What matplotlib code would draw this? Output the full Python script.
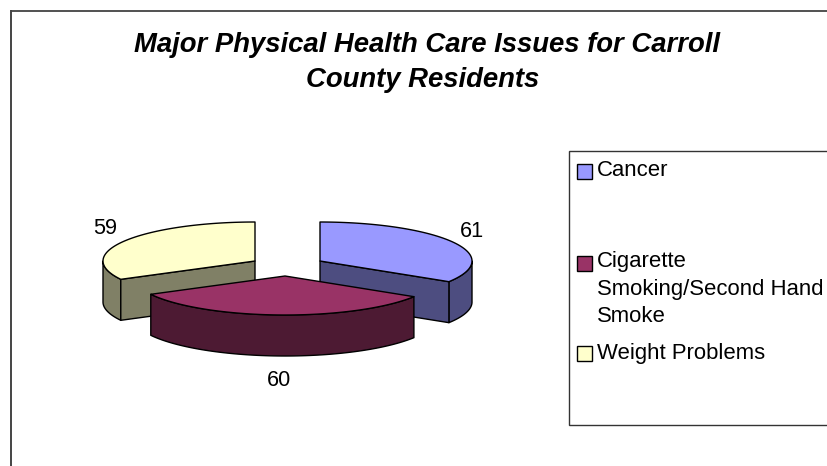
import numpy as np
import matplotlib
matplotlib.use("Agg")
import matplotlib.pyplot as plt
from matplotlib.patches import Polygon, Rectangle

categories = ["Cancer", "Cigarette\nSmoking/Second Hand\nSmoke", "Weight Problems"]
values = [61, 60, 59]
title_lines = ["Major Physical Health Care Issues for Carroll", "County Residents"]

top_colors = ["#9999FF", "#993366", "#FFFFCC"]
side_colors = ["#4D4D80", "#4D1A33", "#808066"]

# layout (pixels)
apexes = [(320, 261), (285, 276), (255, 261)]
RX, RY, DEPTH = 152, 39, 41
label_pos = [(472, 231.5), (279, 380), (105, 229)]
swatch_y = [164, 256, 346]
legend_text_y = [176.5, 267.5, 358.5]
LINE_PITCH = 27.5

plt.rcParams["font.family"] = ["Liberation Sans", "DejaVu Sans"]
fig = plt.figure(figsize=(8.27, 4.66), dpi=100)
ax = fig.add_axes([0, 0, 1, 1])
ax.set_xlim(0, 827)
ax.set_ylim(466, 0)
ax.axis("off")

# outer chart border: only top and left are in the frame
ax.plot([10.5, 827], [10.5, 10.5], color="#222222", lw=1.1, solid_capstyle="butt")
ax.plot([11, 11], [10, 466], color="#444444", lw=1.4, solid_capstyle="butt")

for line, (tx, ty) in zip(title_lines, [(427, 52), (423, 87)]):
    ax.text(tx, ty, line, ha="center", va="baseline",
            fontsize=19.8, fontweight="bold", fontstyle="italic", color="black")

angles = np.cumsum([0] + values) / sum(values) * 360.0


def rim(apex, a0, a1, n=80):
    t = np.radians(np.linspace(a0, a1, n))
    return apex[0] + RX * np.sin(t), apex[1] - RY * np.cos(t)


def draw_slice(i, z):
    a0, a1 = angles[i], angles[i + 1]
    apex = apexes[i]
    # visible outer wall: the part of the rim between 90 and 270 degrees
    w0, w1 = max(a0, 90), min(a1, 270)
    if w1 > w0:
        x, y = rim(apex, w0, w1)
        pts = np.r_[np.c_[x, y], np.c_[x[::-1], y[::-1] + DEPTH]]
        ax.add_patch(Polygon(pts, fc=side_colors[i], ec="black", lw=1, zorder=z, joinstyle="round"))
    # visible cut faces
    for a in (a0, a1):
        if (a == a1 and a < 180) or (a == a0 and a >= 180) or (a == a0 and i == 2):
            x, y = rim(apex, a, a, 1)
            pts = [(apex[0], apex[1]), (x[0], y[0]), (x[0], y[0] + DEPTH), (apex[0], apex[1] + DEPTH)]
            ax.add_patch(Polygon(pts, fc=side_colors[i], ec="black", lw=1, zorder=z, joinstyle="round"))
    x, y = rim(apex, a0, a1)
    pts = np.r_[[apex], np.c_[x, y]]
    ax.add_patch(Polygon(pts, fc=top_colors[i], ec="black", lw=1, zorder=z + 0.5, joinstyle="round"))


for i, z in zip([0, 2, 1], [2, 3, 4]):
    draw_slice(i, z)

for v, (x, y) in zip(values, label_pos):
    ax.text(x, y, str(v), ha="center", va="center", fontsize=15.6, color="black")

# legend
ax.add_patch(Rectangle((569, 151), 300, 274, fc="white", ec="#333333", lw=1, zorder=1))
for cat, col, sy, ty in zip(categories, top_colors, swatch_y, legend_text_y):
    ax.add_patch(Rectangle((577, sy), 14.5, 14.5, fc=col, ec="black", lw=1, zorder=2))
    for k, line in enumerate(cat.split("\n")):
        ax.text(597, ty + k * LINE_PITCH, line, ha="left", va="baseline", fontsize=15.9, color="black")

fig.savefig("out.png", dpi=100)
